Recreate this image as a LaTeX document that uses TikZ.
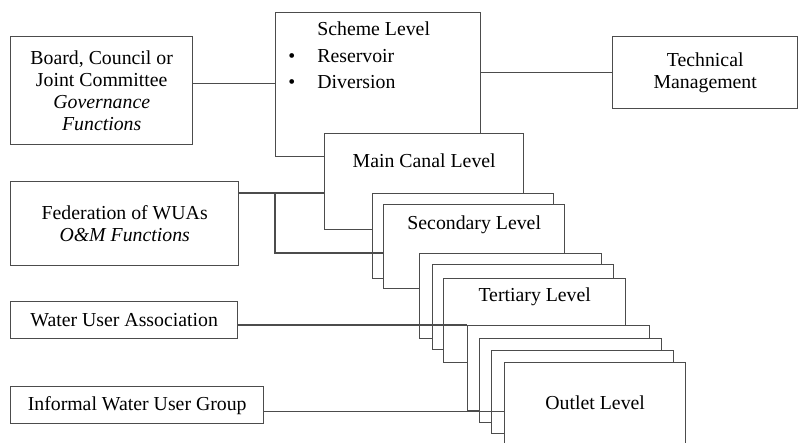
\documentclass[tikz,border=0pt]{standalone}
\usepackage{fontspec}
\setmainfont{Liberation Serif}
\usepackage{tikz}
\usetikzlibrary{positioning}
\tikzstyle{org} = [rectangle, anchor=north west, inner sep=0pt, text centered, align=center, draw=black!70, line width=0.7pt, fill=white, font=\fontsize{9.9}{11}\selectfont]
\tikzstyle{level} = [rectangle, anchor=north west, inner sep=0pt, draw=black!70, line width=0.7pt, fill=white]
\tikzstyle{lvltext} = [inner sep=0pt, font=\fontsize{9.9}{11}\selectfont]
\tikzstyle{connector} = [draw=black!70, line width=0.7pt]

\begin{document}
\begin{tikzpicture}[x=0.5pt, y=-0.5pt]
    \useasboundingbox (0,0) rectangle (798,443);

    % left side: organisations
    \node (board) [org, minimum width=91pt, minimum height=54pt] at (10,36) {Board, Council or\\Joint Committee\\\textit{Governance}\\\textit{Functions}};
    \node (fed) [org, minimum width=114pt, minimum height=42pt] at (10,181) {Federation of WUAs\\\textit{O\&M Functions}};
    \node (wua) [org, minimum width=113.5pt, minimum height=18.5pt] at (10,301) {Water User Association};
    \node (iwug) [org, minimum width=126.5pt, minimum height=18.5pt] at (10,386) {Informal Water User Group};
    \node (tech) [org, minimum width=92.5pt, minimum height=36pt] at (612,36) {Technical\\Management};

    % levels, back to front
    \node (scheme) [level, minimum width=102.5pt, minimum height=72pt] at (275,12) {};
    \node (schemetext) [lvltext, anchor=base west] at (288,36) {\begin{tabular}[t]{@{}l@{\hspace{11pt}}l@{}}
        & Scheme Level\\[2.25pt]
        \textbullet & Reservoir\\[2.25pt]
        \textbullet & Diversion
      \end{tabular}};
    \node (main) [level, minimum width=99.5pt, minimum height=48pt] at (324,133) {};
    \node (maintext) [lvltext, below=10.3pt of main.north] {Main Canal Level};
    \node (sec1) [level, minimum width=90.5pt, minimum height=42.5pt] at (372,193) {};
    \node (sec2) [level, minimum width=90.5pt, minimum height=42pt] at (383,204) {};
    \node (sectext) [lvltext, below=5.5pt of sec2.north] {Secondary Level};
    \node (terta) [level, minimum width=91pt, minimum height=42.5pt] at (419,253) {};
    \node (tertb) [level, minimum width=90.5pt, minimum height=42.5pt] at (432,264) {};
    \node (tertc) [level, minimum width=91pt, minimum height=42pt] at (443,278) {};
    \node (terttext) [lvltext, below=4.75pt of tertc.north] {Tertiary Level};
    \node (out1) [level, minimum width=91pt, minimum height=42.5pt] at (467,325) {};
    \node (out2) [level, minimum width=91pt, minimum height=42pt] at (479,338) {};
    \node (out3) [level, minimum width=91pt, minimum height=41.5pt] at (491,350) {};
    \node (out4) [level, minimum width=90.5pt, minimum height=45pt] at (504,362) {};
    \node (outtext) [lvltext, below=16.75pt of out4.north] {Outlet Level};

    % links
    \draw [connector] ([yshift=3.5pt]board.east) -- ([yshift=3.5pt]board.east -| scheme.west);
    \draw [connector] (tech.west -| scheme.east) -- (tech.west);
    \draw [connector] (sec1.north -| fed.east) -- (sec1.north -| main.west);
    \draw [connector] (sec1.north -| scheme.west) |- (terta.north -| sec2.west);
    \draw [connector] (out1.north west -| wua.east) -- (out1.north west);
    \draw [connector] (out1.south west -| iwug.east) -- (out1.south west -| out4.west);
\end{tikzpicture}
\end{document}
